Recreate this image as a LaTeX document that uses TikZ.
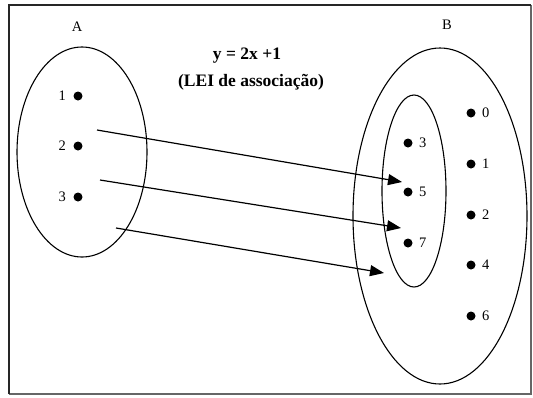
\documentclass[tikz,border=0pt]{standalone}
\usepackage{fontspec}
\setmainfont{Liberation Serif}
\usetikzlibrary{shapes.geometric, arrows.meta}

\tikzset{
  ponto/.style={circle, fill=black, inner sep=0pt, minimum size=9pt},
  conjunto/.style={draw, ellipse, line width=1.1pt, inner sep=0pt},
  seta/.style={line width=1.2pt, -{Triangle[length=14pt, width=11pt]}}
}

\begin{document}
\begin{tikzpicture}[x=1pt, y=-1pt, font=\fontsize{14.5}{16}\selectfont]
  \useasboundingbox (0,0) rectangle (533,397);
  % Moldura
  \draw[line width=1.2pt, black!60] (9,394) -- (531,394) -- (531,5);
  \draw[line width=1.4pt, black!85] (9,394) -- (9,5) -- (531,5);

  % Conjuntos
  \node[conjunto, minimum width=130pt, minimum height=210pt] (A) at (82,152) {};
  \node[conjunto, minimum width=174pt, minimum height=336pt] (B) at (440,216) {};
  \node[conjunto, minimum width=64pt, minimum height=192pt] (Im) at (414,191) {};
  \node (labA) at (77,27) {A};
  \node (labB) at (447,25) {B};

  % Lei
  \node[font=\fontsize{17.5}{18}\selectfont\bfseries] (lei) at (247,56) {y = 2x +1};
  \node[font=\fontsize{17.5}{18}\selectfont\bfseries] (assoc) at (251,82) {(LEI de associação)};

  % Elementos de A
  \node[ponto] (a1) at (78,96) {};
  \node[ponto] (a2) at (78,146) {};
  \node[ponto] (a3) at (78,197) {};
  \node[left=4pt] at (a1.west) {1};
  \node[left=4pt] at (a2.west) {2};
  \node[left=4pt] at (a3.west) {3};

  % Elementos de B
  \foreach \v/\y in {3/143, 5/192, 7/243}
    \node[ponto, label={[label distance=3pt]right:\v}] (b\v) at (408,\y) {};
  \foreach \v/\y in {0/113, 1/164, 2/215, 4/265, 6/316}
    \node[ponto, label={[label distance=3pt]right:\v}] (b\v) at (471,\y) {};

  % Associacoes
  \coordinate (s1) at (97,130);
  \coordinate (s2) at (100,180);
  \coordinate (s3) at (116,228);
  \coordinate (t1) at (402,182);
  \coordinate (t2) at (401,228);
  \coordinate (t3) at (384,273);
  \draw[seta] (s1) -- (t1);
  \draw[seta] (s2) -- (t2);
  \draw[seta] (s3) -- (t3);
\end{tikzpicture}
\end{document}
